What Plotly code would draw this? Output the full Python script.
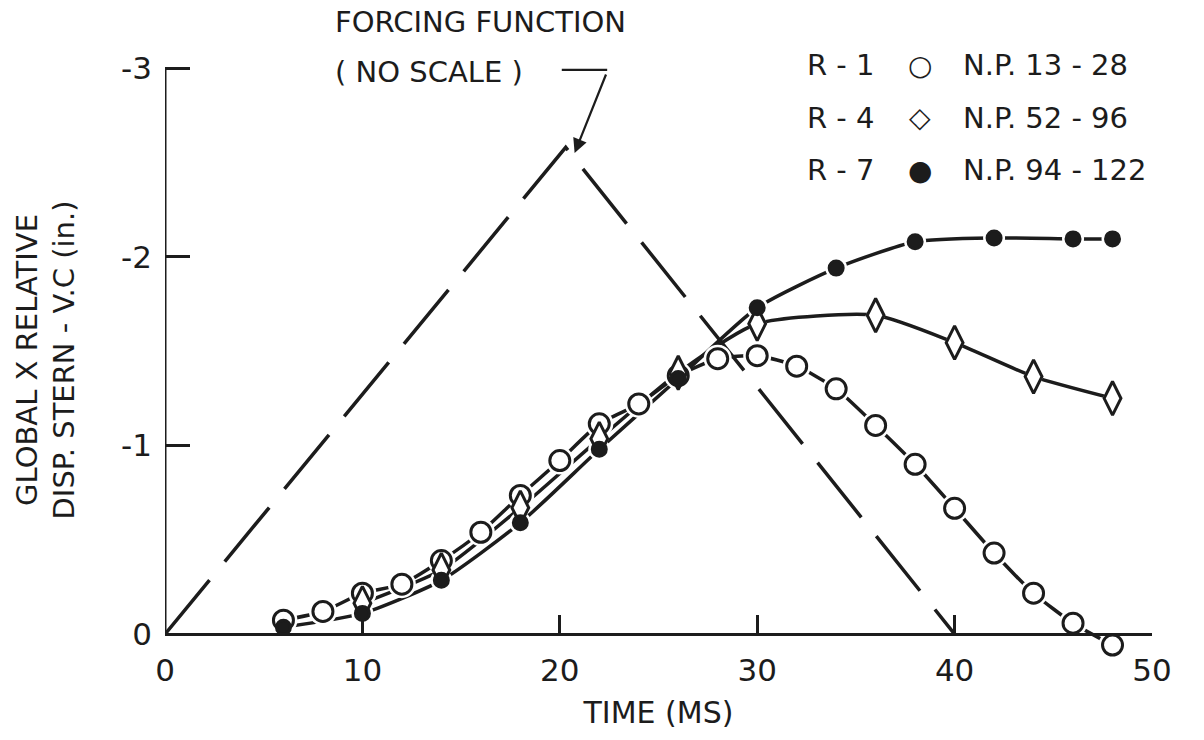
import plotly.graph_objects as go

# ---------------- data ----------------
time_r1 = [6, 8, 10, 12, 14, 16, 18, 20, 22, 24, 26, 28, 30, 32, 34, 36, 38, 40, 42, 44, 46, 48]
disp_r1 = [-0.074, -0.12, -0.217, -0.265, -0.39, -0.54, -0.735, -0.92, -1.115, -1.22, -1.37,
           -1.46, -1.476, -1.42, -1.30, -1.106, -0.90, -0.667, -0.43, -0.217, -0.058, 0.058]

time_r4 = [10, 14, 18, 22, 26, 30, 36, 40, 44, 48]
disp_r4 = [-0.164, -0.34, -0.67, -1.035, -1.385, -1.645, -1.69, -1.545, -1.365, -1.25]

time_r7 = [6, 10, 14, 18, 22, 26, 30, 34, 38, 42, 46, 48]
disp_r7 = [-0.037, -0.11, -0.285, -0.59, -0.98, -1.355, -1.73, -1.94, -2.08, -2.10, -2.095, -2.095]

time_force = [0, 20.3, 40]
disp_force = [0, -2.58, 0]

run_names = ["R - 1", "R - 4", "R - 7"]
node_labels = ["N.P. 13 - 28", "N.P. 52 - 96", "N.P. 94 - 122"]
legend_glyphs = ["○", "◇", "●"]

x_tickvals = [0, 10, 20, 30, 40, 50]
x_ticktext = ["0", "10", "20", "30", "40", "50"]
y_tickvals = [0, -1, -2, -3]
y_ticktext = ["0", "-1", "-2", "-3"]

# ---------------- styling ----------------
INK = "#1c1c1c"
FONT = "DejaVu Sans"
Y_LOW = 0.1          # small room below zero so the last R-1 point stays visible
Y_TOP = -3.006       # tiny margin so the top tick is drawn

series = [
    dict(t=time_r1, y=disp_r1, symbol="circle", fill="white", size=20, halo=28),
    dict(t=time_r4, y=disp_r4, symbol="diamond-tall", fill="white", size=24, halo=28),
    dict(t=time_r7, y=disp_r7, symbol="circle", fill=INK, size=14, halo=22),
]

fig = go.Figure()

# forcing function (long dashes)
fig.add_trace(go.Scatter(
    x=time_force, y=disp_force, mode="lines",
    line=dict(color=INK, width=3.5, dash="70px,24px"),
    showlegend=False, hoverinfo="skip", cliponaxis=False))

# connecting lines
for s, nm in zip(series, run_names):
    fig.add_trace(go.Scatter(
        x=s["t"], y=s["y"], mode="lines", name=nm,
        line=dict(color=INK, width=3.5, shape="spline", smoothing=0.6),
        showlegend=False, hoverinfo="skip", cliponaxis=False))

# white halos to open gaps around the markers
for s in series:
    fig.add_trace(go.Scatter(
        x=s["t"], y=s["y"], mode="markers",
        marker=dict(symbol=s["symbol"], size=s["halo"], color="white", line=dict(width=0)),
        showlegend=False, hoverinfo="skip", cliponaxis=False))

# markers
for s, nm in zip(series, run_names):
    fig.add_trace(go.Scatter(
        x=s["t"], y=s["y"], mode="markers", name=nm,
        marker=dict(symbol=s["symbol"], size=s["size"], color=s["fill"],
                    line=dict(width=3, color=INK)),
        showlegend=False, cliponaxis=False))

annotations = []
# legend as text rows
row_y = [1.003, 0.913, 0.824]
for nm, glyph, lab, yy in zip(run_names, legend_glyphs, node_labels, row_y):
    annotations.append(dict(xref="paper", yref="paper", x=0.648, y=yy, text=nm,
                            showarrow=False, xanchor="left", yanchor="middle",
                            font=dict(family=FONT, size=29, color=INK)))
    annotations.append(dict(xref="paper", yref="paper", x=0.765, y=yy, text=glyph,
                            showarrow=False, xanchor="center", yanchor="middle",
                            font=dict(family=FONT, size=28, color=INK)))
    annotations.append(dict(xref="paper", yref="paper", x=0.806, y=yy, text=lab,
                            showarrow=False, xanchor="left", yanchor="middle",
                            font=dict(family=FONT, size=29, color=INK)))

# forcing function label
annotations.append(dict(xref="paper", yref="paper", x=0.170, y=1.077, text="FORCING FUNCTION",
                        showarrow=False, xanchor="left", yanchor="middle",
                        font=dict(family=FONT, size=29, color=INK)))
annotations.append(dict(xref="paper", yref="paper", x=0.170, y=0.991, text="( NO SCALE )",
                        showarrow=False, xanchor="left", yanchor="middle",
                        font=dict(family=FONT, size=29, color=INK)))
# arrow to the peak
annotations.append(dict(xref="x", yref="y", x=20.75, y=-2.55, text="",
                        showarrow=True, arrowhead=2, arrowsize=1.3, arrowwidth=2.2,
                        arrowcolor=INK, ax=32, ay=-80))

shapes = [
    # horizontal lead of the arrow
    dict(type="line", xref="paper", yref="paper",
         x0=0.402, x1=0.448, y0=0.995, y1=0.995, line=dict(color=INK, width=2.2)),
    # vertical axis line, from zero to the top tick
    dict(type="line", xref="x", yref="y", x0=0, x1=0, y0=0, y1=-3,
         line=dict(color=INK, width=3)),
]

fig.update_layout(
    width=1204, height=740,
    margin=dict(l=165, r=52, t=67, b=87),
    paper_bgcolor="white", plot_bgcolor="white",
    font=dict(family=FONT, size=30, color=INK),
    showlegend=False,
    annotations=annotations,
    shapes=shapes,
)

fig.update_xaxes(
    range=[0, 50], tickvals=x_tickvals, ticktext=x_ticktext,
    anchor="free", position=Y_LOW / (Y_LOW - Y_TOP),
    showline=True, linecolor=INK, linewidth=3,
    ticks="inside", ticklen=18, tickwidth=2.5, tickcolor=INK,
    showgrid=False, zeroline=False, ticklabelstandoff=8,
    tickfont=dict(family=FONT, size=31, color=INK),
    title=dict(text="TIME (MS)", font=dict(family=FONT, size=30, color=INK), standoff=14),
)
fig.update_yaxes(
    range=[Y_LOW, Y_TOP], tickvals=y_tickvals, ticktext=y_ticktext,
    showline=False,
    ticks="inside", ticklen=25, tickwidth=2.5, tickcolor=INK,
    showgrid=False, zeroline=False, ticklabelstandoff=12,
    tickfont=dict(family=FONT, size=31, color=INK),
    title=dict(text="GLOBAL X RELATIVE<br>DISP. STERN - V.C (in.)",
               font=dict(family=FONT, size=29, color=INK), standoff=37),
)

fig.write_html("out.html", config={"displayModeBar": False},
               post_script="document.body.style.margin='0';document.body.style.overflow='hidden';")
